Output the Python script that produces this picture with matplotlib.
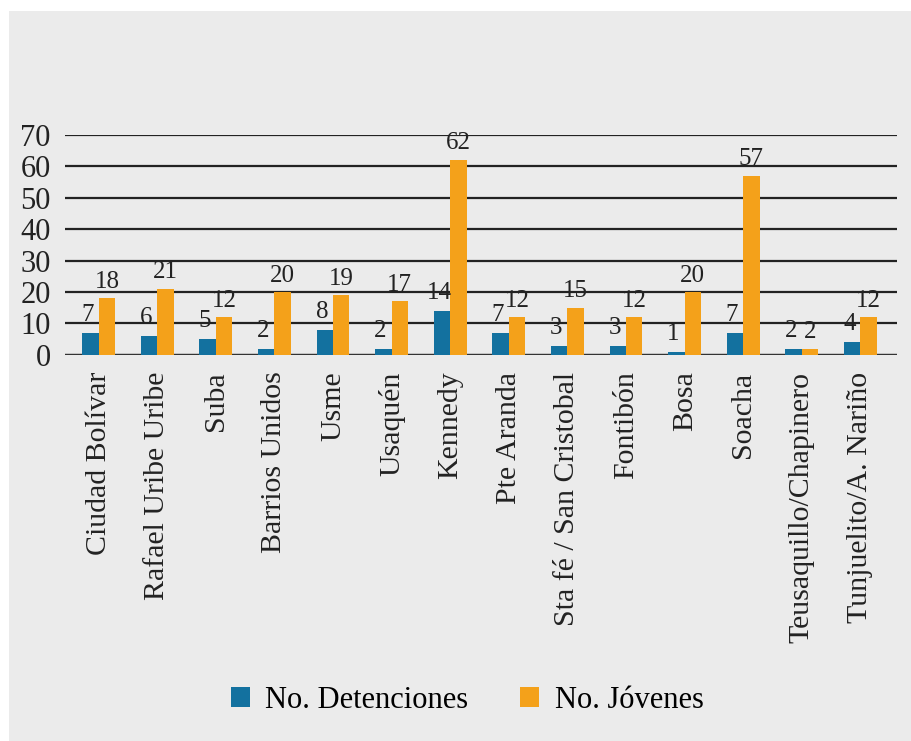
import numpy as np
import matplotlib.pyplot as plt
from matplotlib.patches import Rectangle

localidades = ['Ciudad Bolívar', 'Rafael Uribe Uribe', 'Suba', 'Barrios Unidos', 'Usme',
               'Usaquén', 'Kennedy', 'Pte Aranda', 'Sta fé / San Cristobal', 'Fontibón',
               'Bosa', 'Soacha', 'Teusaquillo/Chapinero', 'Tunjuelito/A. Nariño']
detenciones = [7, 6, 5, 2, 8, 2, 14, 7, 3, 3, 1, 7, 2, 4]
jovenes = [18, 21, 12, 20, 19, 17, 62, 12, 15, 12, 20, 57, 2, 12]

azul = '#13719f'
naranja = '#f4a11a'
fondo = '#ebebeb'

plt.rcParams['font.family'] = ['Liberation Serif', 'DejaVu Serif']

fig = plt.figure(figsize=(9.11, 7.41), dpi=100)
fig.patch.set_facecolor(fondo)
# white strips at the top and left edge
fig.patches.append(Rectangle((0, 0.985), 1, 0.015, transform=fig.transFigure,
                             facecolor='white', edgecolor='none'))
fig.patches.append(Rectangle((0, 0), 0.01, 1, transform=fig.transFigure,
                             facecolor='white', edgecolor='none'))

ax = fig.add_axes([0.071, 0.521, 0.914, 0.297])
ax.set_facecolor(fondo)
x = np.arange(len(localidades))
w = 0.28
b1 = ax.bar(x - w / 2, detenciones, w, color=azul, label='No. Detenciones', zorder=3)
b2 = ax.bar(x + w / 2, jovenes, w, color=naranja, label='No. Jóvenes', zorder=3)

for xi, v in zip(x, detenciones):
    ax.annotate(str(v), (xi - w / 2 - 0.05, v), xytext=(0, 5), textcoords='offset points',
                ha='center', va='bottom', fontsize=18, color='#222222', zorder=4)
for xi, v in zip(x, jovenes):
    ax.annotate(str(v), (xi + w / 2, v), xytext=(0, 4), textcoords='offset points',
                ha='center', va='bottom', fontsize=18, color='#222222', zorder=4)

ax.set_ylim(0, 70)
ax.set_xlim(-0.58, 13.63)
ax.set_yticks(range(0, 71, 10))
ax.yaxis.grid(True, color='#222222', linewidth=1.6, zorder=1)
ax.set_axisbelow(True)
for s in ax.spines.values():
    s.set_visible(False)
ax.axhline(0, color='#333333', linewidth=1.6, zorder=2)
ax.tick_params(axis='both', length=0, labelsize=22, colors='#222222')
ax.tick_params(axis='y', pad=10)
ax.set_xticks(x)
ax.set_xticklabels(localidades, rotation=90, fontsize=21.5)
ax.tick_params(axis='x', pad=12)

fig.legend(handles=[b1, b2], loc='center', bbox_to_anchor=(0.513, 0.055), ncol=2,
           frameon=False, fontsize=22, handlelength=0.62, handleheight=0.62,
           columnspacing=1.7, handletextpad=0.5)

fig.savefig('out.png', dpi=100)
